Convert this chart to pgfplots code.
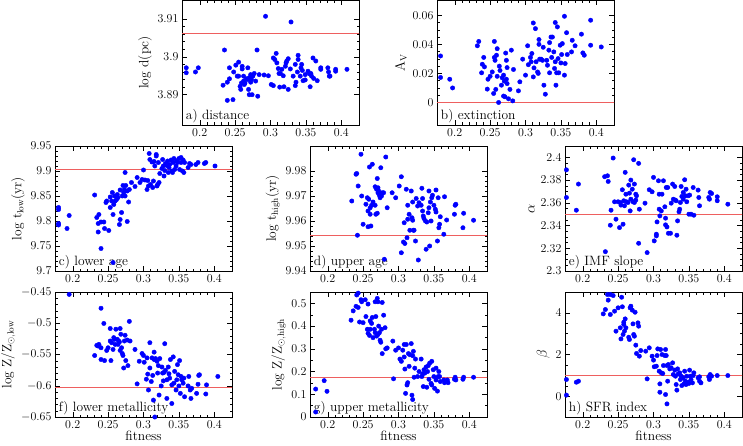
\documentclass[border=0pt]{standalone}
\usepackage{pgfplots}
\pgfplotsset{compat=1.18}
\definecolor{refred}{RGB}{238,95,95}
\pgfplotsset{
  panel/.style={
    scale only axis, width=177pt, height=125pt, anchor=south west,
    xmin=0.175, xmax=0.425,
    xtick={0.2,0.25,0.3,0.35,0.4}, minor x tick num=4,
    tick align=inside, scaled ticks=false,
    /pgf/number format/fixed,
    axis line style={line width=0.5pt},
    major tick length=5pt, minor tick length=2.5pt,
    every tick/.style={black, line width=0.4pt},
    tick label style={font=\fontsize{11.5}{13}\selectfont},
    label style={font=\fontsize{13.5}{15}\selectfont},
    ylabel style={yshift=-1pt},
    xlabel style={yshift=4pt},
  },
  dots/.style={only marks, mark=*, mark size=2.2pt, draw=blue, fill=blue},
  refl/.style={color=refred, line width=0.8pt, no marks},
}
\newcommand{\plabel}[1]{\node[anchor=south west, inner sep=2pt, font=\fontsize{13.5}{15}\selectfont] at (rel axis cs:0.01,0.0) {#1};}
\begin{document}
\begin{tikzpicture}
\useasboundingbox (0,0) rectangle (743pt,445pt);

% a) distance
\begin{axis}[panel, at={(182pt,320pt)}, ymin=3.882, ymax=3.915,
  ytick={3.89,3.9,3.91}, minor y tick num=4, ylabel={log d(pc)}]
\addplot[refl] coordinates {(0.1,3.9063) (0.5,3.9063)};
\addplot[dots] coordinates {
(0.181,3.8971)(0.181,3.8958)(0.194,3.896)(0.198,3.8971)(0.235,3.9018)(0.233,3.8925)(0.239,3.8933)(0.239,3.8885)(0.242,3.8942)(0.242,3.8971)(0.247,3.8887)(0.248,3.896)(0.251,3.8978)(0.253,3.8949)(0.255,3.8986)(0.255,3.8949)(0.257,3.8922)(0.258,3.8914)(0.259,3.8931)(0.260,3.8975)(0.260,3.8968)(0.262,3.8949)(0.262,3.8936)(0.263,3.8927)(0.264,3.8931)(0.266,3.8942)(0.268,3.8971)(0.268,3.894)(0.269,3.8914)(0.270,3.89)(0.270,3.8945)(0.272,3.8953)(0.272,3.8933)(0.273,3.894)(0.274,3.89)(0.275,3.8949)(0.277,3.8956)(0.279,3.8936)(0.281,3.9018)(0.282,3.8896)(0.284,3.8953)(0.291,3.8952)(0.293,3.9107)(0.297,3.895)(0.301,3.8927)(0.304,3.8924)(0.304,3.8997)(0.306,3.8993)(0.308,3.9009)(0.309,3.8984)(0.311,3.8969)(0.312,3.8956)(0.313,3.892)(0.314,3.8956)(0.316,3.8967)(0.318,3.895)(0.319,3.8921)(0.321,3.8975)(0.322,3.8984)(0.323,3.8989)(0.325,3.8995)(0.325,3.8914)(0.328,3.8968)(0.329,3.9092)(0.332,3.8949)(0.335,3.898)(0.335,3.8924)(0.336,3.8933)(0.338,3.896)(0.339,3.9004)(0.339,3.8993)(0.342,3.8949)(0.343,3.8971)(0.344,3.898)(0.345,3.8964)(0.346,3.8937)(0.349,3.8939)(0.349,3.8953)(0.353,3.8962)(0.355,3.8955)(0.356,3.8921)(0.357,3.8956)(0.358,3.8949)(0.36,3.8997)(0.361,3.8943)(0.364,3.8989)(0.366,3.8937)(0.371,3.8971)(0.371,3.8967)(0.381,3.8971)(0.382,3.896)(0.383,3.8949)(0.384,3.8949)(0.392,3.8967)(0.392,3.8962)(0.408,3.8967)
};
\plabel{a) distance}
\end{axis}

% b) extinction
\begin{axis}[panel, at={(437pt,320pt)}, ymin=-0.0155, ymax=0.0705,
  ytick={0,0.02,0.04,0.06}, minor y tick num=3, ylabel={A$_\mathrm{V}$},
  yticklabel style={/pgf/number format/precision=2}]
\addplot[refl] coordinates {(0.1,0) (0.5,0)};
\addplot[dots] coordinates {
(0.180,0.032)(0.180,0.0172)(0.193,0.016)(0.197,0.010)(0.232,0.039)(0.234,0.042)(0.238,0.0204)(0.239,0.0263)(0.241,0.031)(0.242,0.0245)(0.246,0.0092)(0.247,0.016)(0.250,0.018)(0.253,0.021)(0.255,0.0062)(0.256,0.042)(0.256,0.031)(0.257,0.029)(0.258,0.009)(0.259,0.0325)(0.260,0.037)(0.260,0.018)(0.262,0.0)(0.263,0.025)(0.264,0.022)(0.266,0.0119)(0.267,0.017)(0.269,0.0188)(0.269,0.0044)(0.270,0.0147)(0.271,0.0039)(0.272,0.034)(0.273,0.029)(0.273,0.016)(0.274,0.024)(0.274,0.013)(0.276,0.0025)(0.278,0.009)(0.280,0.036)(0.282,0.0011)(0.283,0.0227)(0.290,0.008)(0.292,0.0142)(0.296,0.0298)(0.300,0.0188)(0.303,0.039)(0.304,0.026)(0.307,0.031)(0.308,0.028)(0.309,0.0337)(0.311,0.0547)(0.311,0.0176)(0.312,0.0238)(0.314,0.0508)(0.315,0.028)(0.317,0.021)(0.318,0.020)(0.319,0.0433)(0.319,0.040)(0.320,0.0298)(0.322,0.0298)(0.324,0.029)(0.325,0.038)(0.326,0.0119)(0.328,0.0057)(0.330,0.029)(0.331,0.0256)(0.333,0.036)(0.334,0.0204)(0.334,0.0412)(0.336,0.045)(0.337,0.031)(0.338,0.045)(0.340,0.0348)(0.341,0.0234)(0.342,0.028)(0.342,0.055)(0.343,0.0119)(0.344,0.0204)(0.345,0.052)(0.346,0.0302)(0.347,0.0204)(0.349,0.0394)(0.350,0.0272)(0.351,0.033)(0.352,0.0405)(0.355,0.0593)(0.355,0.0188)(0.356,0.0268)(0.358,0.048)(0.359,0.033)(0.365,0.0348)(0.366,0.0428)(0.370,0.039)(0.379,0.047)(0.381,0.0341)(0.383,0.0325)(0.392,0.0566)(0.392,0.0394)(0.407,0.0382)
};
\plabel{b) extinction}
\end{axis}

% c) lower age
\begin{axis}[panel, at={(55pt,174pt)}, ymin=9.7, ymax=9.95,
  ytick={9.7,9.75,9.8,9.85,9.9,9.95}, minor y tick num=4,
  ylabel={log t$_\mathrm{low}$(yr)}]
\addplot[refl] coordinates {(0.1,9.903) (0.5,9.903)};
\addplot[dots] coordinates {
(0.180,9.827)(0.180,9.823)(0.180,9.795)(0.180,9.792)(0.192,9.785)(0.195,9.811)(0.231,9.852)(0.234,9.807)(0.236,9.795)(0.236,9.778)(0.237,9.813)(0.240,9.798)(0.240,9.745)(0.244,9.798)(0.245,9.785)(0.247,9.837)(0.248,9.84)(0.251,9.781)(0.253,9.827)(0.253,9.848)(0.255,9.84)(0.256,9.857)(0.257,9.717)(0.257,9.813)(0.258,9.833)(0.259,9.85)(0.260,9.84)(0.262,9.843)(0.263,9.853)(0.264,9.847)(0.266,9.793)(0.267,9.862)(0.267,9.803)(0.269,9.817)(0.270,9.85)(0.271,9.871)(0.272,9.857)(0.273,9.863)(0.274,9.85)(0.274,9.897)(0.275,9.871)(0.277,9.86)(0.277,9.799)(0.279,9.838)(0.280,9.863)(0.283,9.877)(0.288,9.869)(0.291,9.887)(0.295,9.877)(0.298,9.883)(0.300,9.902)(0.302,9.882)(0.305,9.863)(0.306,9.881)(0.307,9.87)(0.308,9.935)(0.309,9.923)(0.310,9.873)(0.312,9.918)(0.313,9.867)(0.314,9.88)(0.315,9.919)(0.316,9.91)(0.318,9.933)(0.318,9.93)(0.319,9.87)(0.320,9.873)(0.321,9.917)(0.322,9.877)(0.323,9.895)(0.326,9.905)(0.327,9.923)(0.328,9.91)(0.329,9.89)(0.330,9.901)(0.331,9.915)(0.333,9.911)(0.334,9.92)(0.335,9.897)(0.336,9.907)(0.337,9.913)(0.339,9.922)(0.340,9.9)(0.341,9.897)(0.342,9.917)(0.343,9.925)(0.344,9.903)(0.346,9.91)(0.347,9.92)(0.348,9.917)(0.350,9.925)(0.351,9.903)(0.353,9.927)(0.353,9.917)(0.355,9.9)(0.356,9.922)(0.357,9.897)(0.358,9.917)(0.363,9.907)(0.365,9.915)(0.367,9.913)(0.374,9.913)(0.377,9.917)(0.386,9.915)(0.388,9.917)(0.401,9.91)
};
\plabel{c) lower age}
\end{axis}

% d) upper age
\begin{axis}[panel, at={(310pt,174pt)}, ymin=9.94, ymax=9.99,
  ytick={9.94,9.95,9.96,9.97,9.98}, minor y tick num=4,
  ylabel={log t$_\mathrm{high}$(yr)}]
\addplot[refl] coordinates {(0.1,9.9543) (0.5,9.9543)};
\addplot[dots] coordinates {
(0.234,9.968)(0.240,9.9787)(0.241,9.979)(0.243,9.974)(0.242,9.9543)(0.247,9.9867)(0.248,9.970)(0.250,9.9587)(0.254,9.9667)(0.256,9.9693)(0.257,9.964)(0.257,9.9577)(0.258,9.9687)(0.259,9.9816)(0.260,9.9627)(0.260,9.9653)(0.261,9.958)(0.262,9.9663)(0.263,9.9827)(0.264,9.9676)(0.267,9.9663)(0.267,9.9737)(0.268,9.9627)(0.269,9.9727)(0.270,9.977)(0.270,9.9631)(0.271,9.9733)(0.271,9.9713)(0.272,9.972)(0.273,9.9703)(0.274,9.9693)(0.275,9.9813)(0.276,9.970)(0.277,9.9713)(0.279,9.9713)(0.280,9.9447)(0.282,9.9856)(0.284,9.9653)(0.291,9.9713)(0.296,9.9693)(0.301,9.974)(0.304,9.9777)(0.304,9.9473)(0.307,9.9516)(0.308,9.9593)(0.309,9.951)(0.311,9.9727)(0.312,9.9533)(0.313,9.9663)(0.313,9.9607)(0.315,9.9627)(0.316,9.9563)(0.318,9.972)(0.319,9.9613)(0.320,9.9676)(0.320,9.9603)(0.321,9.9563)(0.322,9.9563)(0.324,9.952)(0.325,9.969)(0.327,9.966)(0.328,9.9444)(0.329,9.9673)(0.332,9.9663)(0.333,9.9731)(0.334,9.969)(0.334,9.964)(0.335,9.962)(0.336,9.961)(0.338,9.960)(0.339,9.9487)(0.340,9.9596)(0.342,9.9633)(0.343,9.972)(0.343,9.9653)(0.344,9.950)(0.345,9.9676)(0.346,9.960)(0.347,9.9693)(0.348,9.9703)(0.350,9.9663)(0.352,9.9647)(0.353,9.9724)(0.353,9.9636)(0.355,9.952)(0.356,9.9693)(0.357,9.9573)(0.358,9.9587)(0.359,9.9617)(0.364,9.9547)(0.365,9.9697)(0.368,9.9604)(0.379,9.9627)(0.380,9.9663)(0.381,9.9667)(0.391,9.9573)(0.392,9.9631)(0.406,9.9603)
};
\plabel{d) upper age}
\end{axis}

% e) IMF slope
\begin{axis}[panel, at={(565pt,174pt)}, ymin=2.3, ymax=2.41,
  ytick={2.3,2.32,2.34,2.36,2.38,2.4}, minor y tick num=3,
  ylabel={$\alpha$}]
\addplot[refl] coordinates {(0.1,2.35) (0.5,2.35)};
\addplot[dots] coordinates {
(0.177,2.389)(0.177,2.3647)(0.191,2.3535)(0.194,2.3765)(0.231,2.383)(0.232,2.317)(0.235,2.3838)(0.236,2.3788)(0.239,2.3403)(0.240,2.3535)(0.243,2.3994)(0.245,2.3609)(0.247,2.3456)(0.250,2.3609)(0.252,2.3382)(0.253,2.3603)(0.254,2.358)(0.256,2.3715)(0.257,2.3412)(0.258,2.3618)(0.259,2.3574)(0.260,2.3868)(0.261,2.3676)(0.262,2.3609)(0.264,2.3603)(0.265,2.3756)(0.266,2.3685)(0.267,2.3529)(0.268,2.38)(0.268,2.3632)(0.270,2.372)(0.271,2.3609)(0.272,2.3979)(0.273,2.3765)(0.273,2.3603)(0.275,2.3676)(0.275,2.3624)(0.276,2.3662)(0.279,2.3947)(0.279,2.3244)(0.280,2.3544)(0.288,2.3597)(0.291,2.3162)(0.294,2.3715)(0.298,2.3697)(0.300,2.3824)(0.301,2.3265)(0.304,2.3309)(0.304,2.3324)(0.305,2.3432)(0.307,2.3794)(0.308,2.3676)(0.308,2.3544)(0.309,2.3485)(0.311,2.3529)(0.312,2.3676)(0.314,2.3794)(0.316,2.3565)(0.317,2.3465)(0.317,2.3406)(0.318,2.3735)(0.319,2.3388)(0.320,2.3735)(0.321,2.3332)(0.324,2.3332)(0.325,2.3597)(0.327,2.3765)(0.328,2.3632)(0.330,2.3744)(0.331,2.3624)(0.332,2.3618)(0.333,2.3315)(0.334,2.3441)(0.336,2.3521)(0.337,2.3544)(0.338,2.3603)(0.339,2.3744)(0.340,2.3656)(0.342,2.3691)(0.342,2.3632)(0.344,2.3803)(0.345,2.3662)(0.346,2.372)(0.347,2.3609)(0.349,2.3662)(0.350,2.35)(0.351,2.3668)(0.353,2.35)(0.356,2.3735)(0.357,2.3491)(0.363,2.3712)(0.364,2.3647)(0.365,2.3574)(0.378,2.3647)(0.379,2.3632)(0.380,2.3691)(0.382,2.3682)(0.390,2.3653)(0.390,2.3618)(0.405,2.3588)
};
\plabel{e) IMF slope}
\end{axis}

% f) lower metallicity
\begin{axis}[panel, at={(55pt,28pt)}, ymin=-0.65, ymax=-0.45,
  ytick={-0.65,-0.6,-0.55,-0.5,-0.45}, minor y tick num=4,
  ylabel={log Z/Z$_{\odot,\mathrm{low}}$}, xlabel={fitness}]
\addplot[refl] coordinates {(0.1,-0.6025) (0.5,-0.6025)};
\addplot[dots] coordinates {
(0.195,-0.4538)(0.240,-0.476)(0.231,-0.5516)(0.234,-0.5354)(0.236,-0.5365)(0.237,-0.5338)(0.240,-0.5392)(0.240,-0.558)(0.244,-0.5003)(0.245,-0.5597)(0.248,-0.5435)(0.250,-0.5392)(0.253,-0.5084)(0.253,-0.5284)(0.254,-0.5597)(0.255,-0.5311)(0.257,-0.5419)(0.258,-0.523)(0.259,-0.5257)(0.260,-0.5338)(0.261,-0.5095)(0.263,-0.5257)(0.264,-0.5338)(0.265,-0.5284)(0.266,-0.53)(0.267,-0.5435)(0.267,-0.5084)(0.268,-0.5176)(0.269,-0.5392)(0.270,-0.5484)(0.271,-0.5516)(0.272,-0.5716)(0.273,-0.5284)(0.274,-0.5192)(0.275,-0.5597)(0.277,-0.5268)(0.278,-0.5678)(0.280,-0.497)(0.281,-0.5284)(0.288,-0.5419)(0.291,-0.597)(0.294,-0.5608)(0.298,-0.5484)(0.300,-0.5516)(0.301,-0.5624)(0.304,-0.5895)(0.305,-0.5554)(0.306,-0.5814)(0.307,-0.6068)(0.309,-0.5311)(0.309,-0.5716)(0.311,-0.5932)(0.312,-0.5554)(0.313,-0.5835)(0.314,-0.623)(0.315,-0.5462)(0.315,-0.558)(0.316,-0.65)(0.317,-0.5565)(0.319,-0.5608)(0.320,-0.5797)(0.321,-0.5678)(0.322,-0.6149)(0.323,-0.5565)(0.325,-0.6003)(0.326,-0.57)(0.327,-0.5797)(0.328,-0.5922)(0.329,-0.5786)(0.330,-0.5327)(0.331,-0.5754)(0.333,-0.6203)(0.333,-0.5905)(0.335,-0.57)(0.336,-0.5808)(0.337,-0.5878)(0.338,-0.558)(0.340,-0.5986)(0.340,-0.6284)(0.342,-0.5538)(0.343,-0.5959)(0.344,-0.577)(0.346,-0.6068)(0.347,-0.5905)(0.348,-0.5662)(0.349,-0.5824)(0.350,-0.6003)(0.351,-0.5597)(0.352,-0.6122)(0.353,-0.5851)(0.354,-0.5905)(0.356,-0.5959)(0.357,-0.5878)(0.358,-0.6176)(0.363,-0.6003)(0.364,-0.5851)(0.366,-0.6068)(0.367,-0.6203)(0.368,-0.6041)(0.375,-0.6122)(0.377,-0.5976)(0.378,-0.5835)(0.379,-0.5824)(0.388,-0.6132)(0.389,-0.5986)(0.405,-0.5851)
};
\plabel{f) lower metallicity}
\end{axis}

% g) upper metallicity
\begin{axis}[panel, at={(310pt,28pt)}, ymin=0, ymax=0.55,
  ytick={0,0.1,0.2,0.3,0.4,0.5}, minor y tick num=1,
  ylabel={log Z/Z$_{\odot,\mathrm{high}}$}, xlabel={fitness}]
\addplot[refl] coordinates {(0.1,0.174) (0.5,0.174)};
\addplot[dots] coordinates {
(0.183,0.123)(0.183,0.022)(0.195,0.16)(0.199,0.113)(0.233,0.426)(0.236,0.467)(0.240,0.487)(0.241,0.537)(0.243,0.482)(0.243,0.545)(0.245,0.418)(0.247,0.516)(0.248,0.507)(0.250,0.415)(0.253,0.516)(0.254,0.442)(0.256,0.386)(0.257,0.368)(0.257,0.497)(0.259,0.359)(0.260,0.423)(0.260,0.386)(0.262,0.412)(0.263,0.438)(0.264,0.349)(0.266,0.386)(0.267,0.507)(0.267,0.371)(0.268,0.442)(0.269,0.356)(0.270,0.522)(0.271,0.507)(0.271,0.363)(0.272,0.4)(0.273,0.371)(0.274,0.338)(0.275,0.329)(0.276,0.386)(0.277,0.504)(0.277,0.279)(0.279,0.448)(0.281,0.393)(0.282,0.3)(0.284,0.304)(0.292,0.334)(0.293,0.168)(0.296,0.294)(0.300,0.304)(0.302,0.255)(0.304,0.245)(0.306,0.294)(0.308,0.319)(0.308,0.264)(0.309,0.211)(0.310,0.104)(0.311,0.319)(0.312,0.141)(0.313,0.151)(0.314,0.279)(0.315,0.223)(0.316,0.274)(0.318,0.323)(0.319,0.096)(0.320,0.077)(0.320,0.27)(0.321,0.289)(0.322,0.175)(0.323,0.215)(0.324,0.255)(0.327,0.178)(0.329,0.2)(0.332,0.255)(0.333,0.178)(0.334,0.19)(0.335,0.134)(0.336,0.208)(0.337,0.193)(0.339,0.22)(0.340,0.131)(0.341,0.2)(0.342,0.226)(0.343,0.166)(0.344,0.237)(0.346,0.148)(0.347,0.245)(0.347,0.141)(0.349,0.208)(0.350,0.178)(0.351,0.126)(0.353,0.215)(0.353,0.163)(0.355,0.114)(0.356,0.178)(0.357,0.2)(0.358,0.178)(0.359,0.156)(0.364,0.163)(0.365,0.151)(0.369,0.163)(0.370,0.151)(0.379,0.166)(0.380,0.175)(0.381,0.163)(0.391,0.166)(0.392,0.175)(0.406,0.175)
};
\plabel{g) upper metallicity}
\end{axis}

% h) SFR index
\begin{axis}[panel, at={(565pt,28pt)}, ymin=-1, ymax=5,
  ytick={0,2,4}, minor y tick num=3,
  ylabel={$\beta$}, xlabel={fitness}]
\addplot[refl] coordinates {(0.1,1) (0.5,1)};
\addplot[dots] coordinates {
(0.177,0.8)(0.177,0.05)(0.191,0.67)(0.194,0.72)(0.229,3.95)(0.232,4.16)(0.235,4.88)(0.236,4.61)(0.239,4.88)(0.239,3.92)(0.243,4.83)(0.245,4.08)(0.247,3.12)(0.250,4.24)(0.253,3.28)(0.254,2.75)(0.255,4.75)(0.256,4.29)(0.257,2.96)(0.258,3.44)(0.258,3.55)(0.259,3.12)(0.260,3.71)(0.261,3.28)(0.265,2.83)(0.266,2.72)(0.267,4.24)(0.268,4.32)(0.270,4.13)(0.271,3.47)(0.272,2.96)(0.273,2.88)(0.274,4.03)(0.275,2.45)(0.276,2.05)(0.278,3.52)(0.279,3.36)(0.280,1.92)(0.282,2.19)(0.289,2.16)(0.291,0.83)(0.294,2.32)(0.298,1.92)(0.300,1.73)(0.301,1.41)(0.304,1.44)(0.305,1.95)(0.306,2.27)(0.308,1.2)(0.309,0.59)(0.309,0.19)(0.310,2.24)(0.311,1.12)(0.312,2.0)(0.313,1.09)(0.314,1.47)(0.316,1.95)(0.317,0.08)(0.317,2.24)(0.318,1.95)(0.319,-0.37)(0.319,1.47)(0.320,0.72)(0.321,1.52)(0.323,1.31)(0.325,1.36)(0.327,1.6)(0.328,1.04)(0.330,1.25)(0.331,0.96)(0.332,0.56)(0.333,0.29)(0.334,1.31)(0.335,1.07)(0.337,1.12)(0.338,0.8)(0.339,0.96)(0.340,0.51)(0.342,0.88)(0.343,0.59)(0.344,1.2)(0.345,0.72)(0.346,0.56)(0.347,0.96)(0.349,0.67)(0.350,0.61)(0.351,1.25)(0.352,0.96)(0.353,0.8)(0.355,0.64)(0.356,0.99)(0.357,1.12)(0.363,0.88)(0.365,0.72)(0.365,0.93)(0.367,0.64)(0.378,0.93)(0.379,0.8)(0.380,1.04)(0.382,0.96)(0.390,0.99)(0.405,0.99)
};
\plabel{h) SFR index}
\end{axis}
\end{tikzpicture}
\end{document}
